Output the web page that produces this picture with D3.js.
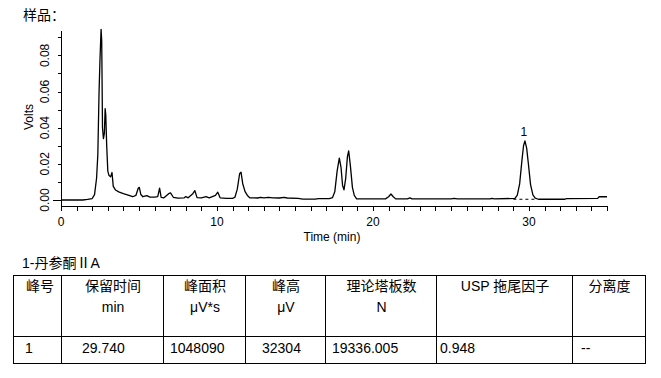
<!DOCTYPE html>
<html>
<head>
<meta charset="utf-8">
<script src="https://cdn.jsdelivr.net/npm/d3@7"></script>
<style>
  body { margin: 0; background: #fff; }
  svg { display: block; font-family: "Liberation Sans", Arial, "Noto Sans CJK SC", sans-serif; }
</style>
</head>
<body>
<svg id="chart" width="661" height="378"></svg>
<script>
// chromatogram trace: retention time (min) and signal (V)
const traceTime = [0, 1.4, 1.7, 2.0, 2.15, 2.28, 2.36, 2.44, 2.5, 2.57, 2.61, 2.66, 2.72, 2.78, 2.83, 2.87, 2.93, 3.0, 3.08, 3.18, 3.27, 3.35, 3.5, 3.7, 4.0, 4.3, 4.6, 4.8, 4.95, 5.02, 5.12, 5.25, 5.5, 5.7, 6.0, 6.2, 6.32, 6.42, 6.6, 6.9, 7.02, 7.2, 7.5, 7.9, 8.0, 8.15, 8.45, 8.58, 8.72, 9.0, 9.3, 9.5, 9.9, 10.05, 10.2, 10.6, 11.0, 11.15, 11.3, 11.45, 11.54, 11.65, 11.8, 11.95, 12.1, 12.6, 12.8, 13.0, 13.3, 13.6, 14.0, 14.3, 14.5, 15.2, 15.5, 16.3, 16.5, 17.2, 17.4, 17.55, 17.7, 17.84, 17.95, 18.05, 18.14, 18.25, 18.36, 18.44, 18.55, 18.68, 18.8, 18.95, 20.8, 21.0, 21.15, 21.3, 21.45, 22.2, 22.37, 22.5, 25.0, 25.2, 25.4, 27.5, 27.6, 27.8, 29.1, 29.25, 29.4, 29.55, 29.65, 29.74, 29.85, 29.95, 30.1, 30.25, 30.4, 30.6, 32.3, 32.4, 34.4, 34.5, 35];
const traceVolts = [0, 0, 0.0003, 0.0008, 0.003, 0.012, 0.025, 0.06, 0.078, 0.0944, 0.088, 0.04, 0.034, 0.037, 0.0506, 0.047, 0.03, 0.016, 0.0135, 0.0128, 0.0152, 0.0075, 0.0055, 0.0045, 0.0035, 0.0027, 0.0018, 0.0025, 0.0065, 0.007, 0.003, 0.0018, 0.0024, 0.0016, 0.0016, 0.0018, 0.0065, 0.0015, 0.0012, 0.0035, 0.0039, 0.0015, 0.001, 0.0012, 0.0019, 0.0012, 0.0035, 0.0052, 0.0013, 0.0012, 0.0018, 0.0012, 0.0025, 0.0043, 0.0012, 0.0009, 0.0009, 0.0015, 0.006, 0.0145, 0.0154, 0.009, 0.0046, 0.0025, 0.0012, 0.0011, 0.0015, 0.0012, 0.0015, 0.0012, 0.0011, 0.0015, 0.0011, 0.0009, 0.0005, 0.0005, 0.0008, 0.0008, 0.0013, 0.0045, 0.016, 0.0231, 0.018, 0.008, 0.0056, 0.012, 0.024, 0.0272, 0.019, 0.007, 0.0025, 0.0006, 0.0006, 0.0018, 0.0033, 0.0018, 0.0006, 0.0006, 0.0012, 0.0006, 0.0006, 0.0009, 0.0006, 0.0006, 0.0009, 0.0006, 0.0009, 0.0027, 0.0089, 0.0222, 0.03, 0.0327, 0.0287, 0.0209, 0.0085, 0.0028, 0.001, 0.0004, 0.0004, 0.0008, 0.0009, 0.0018, 0.0018];

// integrated peak
const peakLabels = ['1'];
const peakTimes = [29.74];
const peakHeights = [0.0327];
const peakBaseStart = [29.0];
const peakBaseEnd = [30.5];
const peakBaseVolts = [0.0004];

const xTicks = [0, 10, 20, 30];
const yTicks = [0, 0.02, 0.04, 0.06, 0.08];

// results table
const tableTitle = '1-丹参酮ⅡA';
const headerLine1 = ['峰号', '保留时间', '峰面积', '峰高', '理论塔板数', 'USP 拖尾因子', '分离度'];
const headerLine2 = ['', 'min', 'μV*s', 'μV', 'N', '', ''];
const resultRow = ['1', '29.740', '1048090', '32304', '19336.005', '0.948', '--'];

// table layout (px)
const colEdges = [13, 61, 163, 245, 325, 436, 572, 645];
const cellPad = [12, 21, 7, 17, 7, 4, 9];

const svg = d3.select('#chart');

svg.append('text')
  .attr('x', 23).attr('y', 20)
  .style('font-size', '14px')
  .text('样品：');

const x = d3.scaleLinear().domain([0, 35]).range([61, 607]);
const y = d3.scaleLinear().domain([-0.00333, 0.0935]).range([206, 31]);

const axisColor = '#000';

// y axis
const yAxis = svg.append('g');
yAxis.append('line')
  .attr('x1', 61.5).attr('x2', 61.5)
  .attr('y1', y.range()[1]).attr('y2', 206)
  .attr('stroke', axisColor);
yAxis.selectAll('.ytick')
  .data(d3.range(0, 10).map(i => i * 0.01))
  .join('line')
  .attr('x1', d => (d === 0 ? 53 : 58))
  .attr('x2', 61)
  .attr('y1', d => Math.round(y(d)) + 0.5)
  .attr('y2', d => Math.round(y(d)) + 0.5)
  .attr('stroke', axisColor);
yAxis.selectAll('.ylabel')
  .data(yTicks)
  .join('text')
  .attr('transform', d => `translate(49,${y(d)}) rotate(-90)`)
  .attr('text-anchor', 'middle')
  .style('font-size', '12px')
  .text(d => d.toFixed(2));
svg.append('text')
  .attr('transform', 'translate(33,117) rotate(-90)')
  .attr('text-anchor', 'middle')
  .style('font-size', '12px')
  .text('Volts');

// x axis
const xAxis = svg.append('g');
xAxis.append('line')
  .attr('x1', 61).attr('x2', 607)
  .attr('y1', 206.5).attr('y2', 206.5)
  .attr('stroke', axisColor);
xAxis.selectAll('.xtick')
  .data(d3.range(0, 36))
  .join('line')
  .attr('x1', d => Math.round(x(d)) + 0.5)
  .attr('x2', d => Math.round(x(d)) + 0.5)
  .attr('y1', 206).attr('y2', 211)
  .attr('stroke', axisColor);
xAxis.selectAll('.xlabel')
  .data(xTicks)
  .join('text')
  .attr('x', d => x(d))
  .attr('y', 226)
  .attr('text-anchor', 'middle')
  .style('font-size', '12px')
  .text(d => d);
svg.append('text')
  .attr('x', 332).attr('y', 241)
  .attr('text-anchor', 'middle')
  .style('font-size', '12px')
  .text('Time (min)');

// peak baseline (dashed)
svg.selectAll('.peakbase')
  .data(peakLabels)
  .join('line')
  .attr('x1', (d, i) => x(peakBaseStart[i]))
  .attr('x2', (d, i) => x(peakBaseEnd[i]))
  .attr('y1', (d, i) => y(peakBaseVolts[i]))
  .attr('y2', (d, i) => y(peakBaseVolts[i]))
  .attr('stroke', '#000')
  .attr('stroke-dasharray', '3,3');

// trace
const line = d3.line()
  .x(d => x(d[0]))
  .y(d => y(d[1]));
svg.append('path')
  .datum(d3.zip(traceTime, traceVolts))
  .attr('d', line)
  .attr('fill', 'none')
  .attr('stroke', '#000')
  .attr('stroke-width', 1.3)
  .attr('stroke-linejoin', 'round');

svg.selectAll('.peaklabel')
  .data(peakLabels)
  .join('text')
  .attr('x', (d, i) => x(peakTimes[i]) - 1)
  .attr('y', (d, i) => y(peakHeights[i]) - 5)
  .attr('text-anchor', 'middle')
  .style('font-size', '12px')
  .text(d => d);

// table
svg.append('text')
  .attr('x', 22).attr('y', 268)
  .style('font-size', '14px')
  .text(tableTitle);

const table = svg.append('g').attr('stroke', '#000').attr('shape-rendering', 'crispEdges');
table.append('rect')
  .attr('x', colEdges[0] + 0.5).attr('y', 275.5)
  .attr('width', colEdges[colEdges.length - 1] - colEdges[0])
  .attr('height', 88)
  .attr('fill', 'none');
table.append('line')
  .attr('x1', colEdges[0]).attr('x2', colEdges[colEdges.length - 1])
  .attr('y1', 336.5).attr('y2', 336.5);
table.selectAll('.col')
  .data(colEdges.slice(1, -1))
  .join('line')
  .attr('x1', d => d + 0.5).attr('x2', d => d + 0.5)
  .attr('y1', 275).attr('y2', 363);

const colCenter = i => (colEdges[i] + colEdges[i + 1]) / 2;
svg.selectAll('.h1')
  .data(headerLine1)
  .join('text')
  .attr('x', (d, i) => colCenter(i) + (i === 0 ? 3 : 1))
  .attr('y', 291)
  .attr('text-anchor', 'middle')
  .style('font-size', '14px')
  .text(d => d);
svg.selectAll('.h2')
  .data(headerLine2)
  .join('text')
  .attr('x', (d, i) => colCenter(i) + 1)
  .attr('y', 312)
  .attr('text-anchor', 'middle')
  .style('font-size', '14px')
  .text(d => d);
svg.selectAll('.cell')
  .data(resultRow)
  .join('text')
  .attr('x', (d, i) => colEdges[i] + cellPad[i])
  .attr('y', 353)
  .style('font-size', '14px')
  .text(d => d);
</script>
</body>
</html>
